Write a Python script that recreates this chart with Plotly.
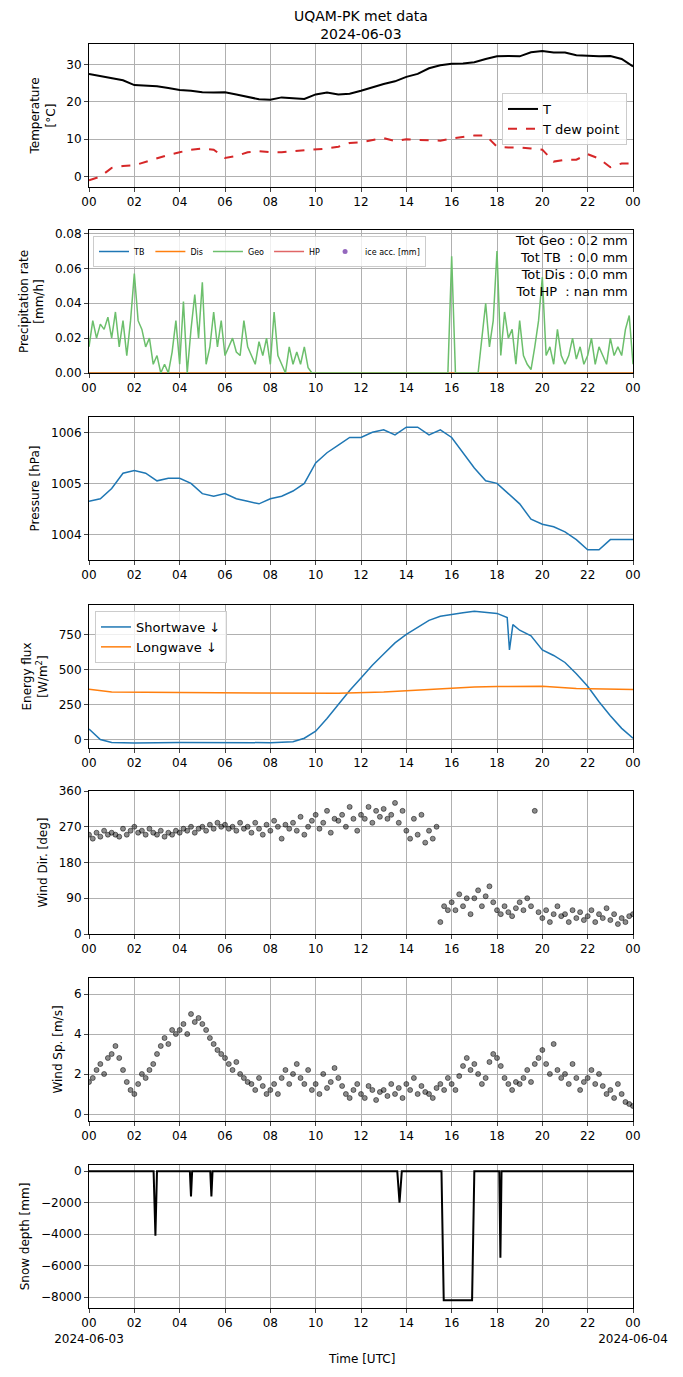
import plotly.graph_objects as go

H = 1377.0; W = 683.0
OFF = 8  # page body margin
# ---------------- data ----------------
t30 = [i * 0.5 for i in range(49)]
temp = [27.5,27,26.3,25.8,24.5,24.4,24.2,23.7,23.2,23,22.6,22.5,22.6,22,21.3,20.7,20.6,21.2,21,20.8,22,22.5,22,22.2,23,24,24.8,25.5,26.7,27.5,29,29.8,30.2,30.3,30.6,31.5,32.2,32.3,32.2,33.3,33.6,33.2,33.2,32.5,32.3,32.2,32.3,31.5,29.5]
dew = [-1,0,2.3,2.8,3,4,5,5.8,6.5,7.2,7.5,7.2,5,5.5,6.5,6.8,6.5,6.5,6.8,7,7.2,7.5,8,9,9.2,9.8,10.3,9.5,10,9.8,9.8,9.6,10.2,10.5,11,11,8,7.8,7.8,7.5,7.2,4,4.5,4.5,6,4.8,2.5,3.5,3.5]
pres = [1004.65,1004.7,1004.9,1005.2,1005.25,1005.2,1005.05,1005.1,1005.1,1005.0,1004.8,1004.75,1004.8,1004.7,1004.65,1004.6,1004.7,1004.75,1004.85,1005.0,1005.4,1005.6,1005.75,1005.9,1005.9,1006.0,1006.05,1005.95,1006.1,1006.1,1005.95,1006.05,1005.9,1005.6,1005.3,1005.05,1005.0,1004.8,1004.6,1004.3,1004.2,1004.15,1004.05,1003.9,1003.7,1003.7,1003.9,1003.9,1003.9]

t10 = [i / 6 for i in range(145)]
geo = [0.015,0.03,0.02,0.028,0.025,0.032, 0.02,0.035,0.015,0.03,0.01,0.03,
       0.057,0.03,0.025,0.015,0.02,0.005, 0.01,0,0.005,0,0.012,0.03,
       0.005,0.041,0,0.025,0.045,0.02, 0.052,0.005,0.015,0.035,0.015,0.03,
       0.01,0.015,0.02,0.012,0.01,0.03, 0.015,0.01,0.005,0.018,0.01,0.02,
       0.005,0.035,0.01,0.005,0,0.015, 0.005,0.012,0.005,0.015,0.003,0] + [0]*36 + \
      [0.067,0,0,0,0,0, 0,0,0.02,0.04,0.015,0.03,
       0.07,0.01,0.035,0.02,0.025,0.005, 0.03,0.01,0.005,0.002,0.015,0.03,
       0.055,0.01,0.015,0.005,0.025,0.01, 0.005,0.01,0.02,0.008,0.015,0.005,
       0.01,0.02,0.005,0.015,0.01,0.005, 0.02,0.01,0.015,0.01,0.025,0.033, 0.005]
zeros = [0] * 145

sw_t = [0,0.5,1,2,4,6,8,9,9.5,10,10.5,11,11.5,12,12.5,13,13.5,14,14.5,15,15.5,16,16.5,17,17.5,18,18.45,18.55,18.7,19,19.5,20,20.5,21,21.5,22,22.5,23,23.5,24]
sw = [75,0,-20,-25,-20,-20,-22,-15,10,60,150,250,350,440,530,610,690,750,800,850,880,895,905,915,910,900,870,640,820,780,740,640,600,550,470,380,270,170,80,10]
lw_t = [0,1,4,8,10,11,13,15,17,18,20,21.5,24]
lw = [360,340,335,335,333,330,340,360,375,378,380,365,358]

wdir = [250,240,255,245,260,250, 255,250,245,265,250,260, 270,255,260,250,265,255,
        250,260,245,255,250,260, 255,265,260,270,255,265, 270,260,275,265,280,270,
        275,265,270,260,280,265, 270,255,280,265,250,275, 260,285,270,240,275,265,
        280,260,295,250,270,285, 300,265,280,310,255,290, 285,300,270,320,290,260,
        300,290,320,280,310,295, 315,290,300,330,280,310, 260,240,290,250,300,230,
        260,240,270,30,70,60, 80,60,100,70,90,50, 90,110,70,95,120,80,
        60,50,70,55,45,65, 80,60,90,70,310,55, 40,60,30,50,70,45,
        50,30,60,40,55,35, 45,60,30,50,40,65, 35,50,25,40,30,45, 50]
wspd = [1.6,1.8,2.2,2.5,2.0,2.8, 3.0,3.4,2.8,2.2,1.6,1.2, 1.0,1.5,2.0,1.8,2.2,2.5,
        3.0,3.4,3.8,3.5,4.2,4.0, 4.2,4.5,4.0,5.0,4.6,4.8, 4.5,4.2,3.8,3.5,3.2,3.0,
        2.8,2.5,2.2,2.6,2.0,1.8, 1.6,1.5,1.2,1.8,1.4,1.0, 1.2,1.5,1.0,1.8,2.2,1.5,
        2.0,2.5,1.8,1.5,2.2,1.2, 1.5,1.0,2.0,1.3,1.6,2.3, 1.8,1.4,1.0,0.8,1.2,1.5,
        1.0,0.8,1.4,1.2,0.7,1.1, 1.2,0.9,1.5,1.0,1.3,0.8, 1.5,1.2,1.8,1.0,1.4,1.1,
        1.0,0.8,1.3,1.5,1.2,1.8, 1.5,1.2,1.9,2.4,2.8,2.2, 2.5,2.0,1.5,1.8,2.6,3.0,
        2.8,2.4,1.8,1.5,1.2,1.6, 1.5,1.8,2.2,1.6,2.5,2.8, 3.2,2.5,2.0,3.5,2.2,1.8,
        2.0,1.5,2.5,1.8,1.2,1.6, 1.8,2.2,1.5,2.0,1.4,1.0, 1.2,0.8,1.5,1.0,0.6,0.5, 0.4]

snow_t = [0,2.85,2.93,3.0,4.45,4.5,4.55,5.35,5.4,5.45,13.6,13.7,13.8,15.55,15.65,16.9,17.0,18.1,18.15,18.2,24]
snow = [0,0,-4100,0,0,-1600,0,0,-1600,0,0,-2000,0,0,-8200,-8200,0,0,-5500,0,0]

tickvals = list(range(0, 25, 2))
ticktext = ["%02d" % (v % 24) for v in tickvals]
# --------------------------------------
fig = go.Figure()
panels = [(44,187),(230,373),(417,560),(605,748),(791,934),(978,1121),(1165,1308)]
def py(v): return 1 - (v - OFF) / H
def px(v): return (v - OFF) / W
def dom(p): return [py(p[1]), py(p[0])]
xd = [px(89), px(633)]
fnt = dict(family="DejaVu Sans", size=12, color="black")
ax_common = dict(showline=True, mirror=True, linecolor="black", ticks="outside", ticklen=4,
                 showgrid=True, gridcolor="#b0b0b0", zeroline=False, tickfont=fnt, automargin=False)
for i, p in enumerate(panels):
    n = "" if i == 0 else str(i + 1)
    fig.layout["xaxis" + n] = dict(domain=xd, anchor="y" + n, range=[0, 24], tickvals=tickvals,
                                   ticktext=ticktext, tickangle=0, **ax_common)
    fig.layout["yaxis" + n] = dict(domain=dom(p), anchor="x" + n, **ax_common)

def add(x, y, i, **kw):
    n = "" if i == 0 else str(i + 1)
    fig.add_trace(go.Scatter(x=x, y=y, xaxis="x" + n, yaxis="y" + n, **kw))

add(t30, temp, 0, mode="lines", name="T", line=dict(color="black", width=2), legend="legend")
add(t30, dew, 0, mode="lines", name="T dew point", line=dict(color="#d62728", width=2, dash="dash"), legend="legend")
add(t10, zeros, 1, mode="lines", name="TB", line=dict(color="#1f77b4", width=1.5), legend="legend2")
add(t10, zeros, 1, mode="lines", name="Dis", line=dict(color="#ff7f0e", width=1.5), legend="legend2")
add(t10, geo, 1, mode="lines", name="Geo", line=dict(color="#6cbf6c", width=1.5), legend="legend2")
add([None], [None], 1, mode="lines", name="HP", line=dict(color="#e06666", width=1.5), legend="legend2")
add([None], [None], 1, mode="markers", name="ice acc. [mm]", marker=dict(color="#9467bd", size=5), legend="legend2")
add(t30, pres, 2, mode="lines", showlegend=False, line=dict(color="#1f77b4", width=1.5))
add(sw_t, sw, 3, mode="lines", name="Shortwave ↓", line=dict(color="#1f77b4", width=1.5), legend="legend3")
add(lw_t, lw, 3, mode="lines", name="Longwave ↓", line=dict(color="#ff7f0e", width=1.5), legend="legend3")
add(t10, wdir, 4, mode="markers", showlegend=False, marker=dict(color="rgba(0,0,0,0.45)", size=5, line=dict(color="black", width=0.5)))
add(t10, wspd, 5, mode="markers", showlegend=False, marker=dict(color="rgba(0,0,0,0.45)", size=5, line=dict(color="black", width=0.5)))
add(snow_t, snow, 6, mode="lines", showlegend=False, line=dict(color="black", width=2))

def yt(text, s=8): return dict(text=text, font=fnt, standoff=s)
fig.layout.yaxis.update(range=[-2.8, 35.5], tickvals=[0, 10, 20, 30], title=yt("Temperature<br>[°C]"))
fig.layout.yaxis2.update(range=[0, 0.082], tickvals=[0, 0.02, 0.04, 0.06, 0.08], tickformat=".2f", title=yt("Precipitation rate<br>[mm/h]"))
fig.layout.yaxis3.update(range=[1003.5, 1006.3], tickvals=[1004, 1005, 1006], title=yt("Pressure [hPa]"))
fig.layout.yaxis4.update(range=[-60, 960], tickvals=[0, 250, 500, 750], title=yt("Energy flux<br>[W/m<sup>2</sup>]"))
fig.layout.yaxis5.update(range=[0, 360], tickvals=[0, 90, 180, 270, 360], title=yt("Wind Dir. [deg]"))
fig.layout.yaxis6.update(range=[-0.35, 6.8], tickvals=[0, 2, 4, 6], title=yt("Wind Sp. [m/s]"))
fig.layout.yaxis7.update(range=[-8700, 400], tickvals=[0, -2000, -4000, -6000, -8000], title=yt("Snow depth [mm]"))
tt = list(ticktext); tt[0] = "00<br>2024-06-03"; tt[-1] = "00<br>2024-06-04"
fig.layout.xaxis7.update(ticktext=tt)

leg = dict(bgcolor="rgba(255,255,255,0.8)", bordercolor="#cccccc", borderwidth=1)
fig.update_layout(
    width=683, height=1377, margin=dict(l=0, r=0, t=0, b=0), plot_bgcolor="white", paper_bgcolor="white",
    font=fnt,
    legend=dict(x=px(627), xanchor="right", y=py(93), yanchor="top", font=dict(size=13), **leg),
    legend2=dict(x=px(93), xanchor="left", y=py(236), yanchor="top", orientation="h", font=dict(size=8), **leg),
    legend3=dict(x=px(95), xanchor="left", y=py(611), yanchor="top", font=dict(size=13), **leg),
)
fig.add_annotation(xref="paper", yref="paper", x=0.5 * (xd[0] + xd[1]), y=py(6), xanchor="center", yanchor="top",
                   showarrow=False, font=dict(family="DejaVu Sans", size=14), text="UQAM-PK met data<br>2024-06-03")
fig.add_annotation(xref="paper", yref="paper", x=0.5 * (xd[0] + xd[1]), y=py(1350), xanchor="center", yanchor="top",
                   showarrow=False, font=fnt, text="Time [UTC]")
fig.add_annotation(xref="paper", yref="paper", x=px(630), y=py(231), xanchor="right", yanchor="top", align="right",
                   showarrow=False, font=dict(family="DejaVu Sans", size=13),
                   text="Tot Geo : 0.2 mm<br>Tot TB  : 0.0 mm<br>Tot Dis : 0.0 mm<br>Tot HP  : nan mm")
fig.write_html("out.html")
